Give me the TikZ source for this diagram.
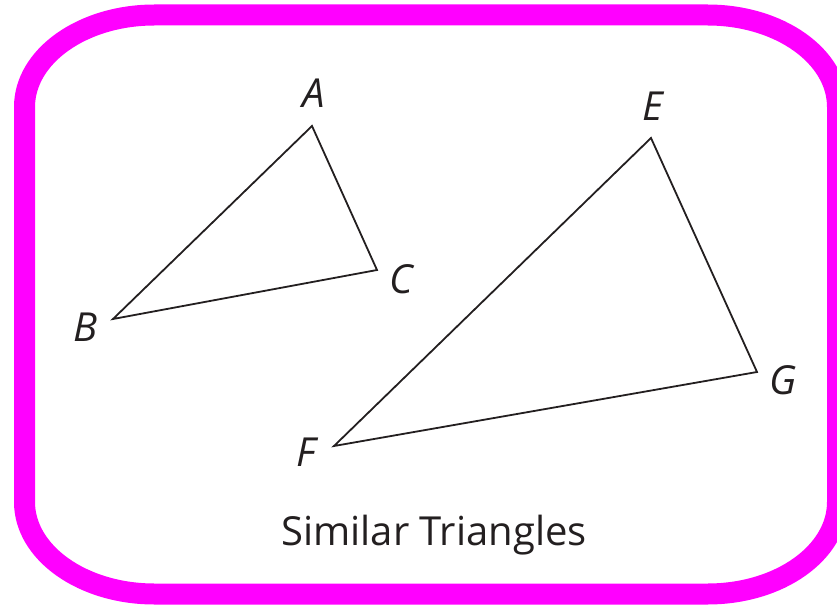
\documentclass[tikz,border=0pt]{standalone}
\usepackage{fontspec}
\setmainfont{Open Sans}
\definecolor{mag}{HTML}{FF00FF}
\definecolor{ink}{HTML}{231F20}
\begin{document}
\begin{tikzpicture}[x=1pt,y=1pt,
  tri/.style={draw=ink,line width=1.8pt,line join=miter},
  lbl/.style={text=ink,font=\fontsize{40}{40}\selectfont\itshape,inner sep=0pt},
  captext/.style={text=ink,font=\fontsize{40}{40}\selectfont,inner sep=0pt}]
\useasboundingbox (0,0) rectangle (837,606);
\def\rx{130}\def\ry{92}
\draw[mag,line width=21pt] (24.5,591-\ry) -- (24.5,12+\ry)
  arc[start angle=180,end angle=270,x radius=\rx,y radius=\ry]
  -- (837.5-\rx,12)
  arc[start angle=270,end angle=360,x radius=\rx,y radius=\ry]
  -- (837.5,591-\ry)
  arc[start angle=0,end angle=90,x radius=\rx,y radius=\ry]
  -- (24.5+\rx,591)
  arc[start angle=90,end angle=180,x radius=\rx,y radius=\ry] -- cycle;
% vertices (y = 606 - image y)
\coordinate (A) at (312,480);
\coordinate (B) at (113,287);
\coordinate (C) at (377,336);
\coordinate (E) at (651,468);
\coordinate (F) at (334,160);
\coordinate (G) at (757,234);
\draw[tri] (A) -- (B) -- (C) -- cycle;
\draw[tri] (E) -- (F) -- (G) -- cycle;
\node[lbl] (lA) at (314,513) {A};
\node[lbl] (lB) at (86,279) {B};
\node[lbl] (lC) at (401,327) {C};
\node[lbl] (lE) at (653,500) {E};
\node[lbl] (lF) at (306,154) {F};
\node[lbl] (lG) at (783,226) {G};
\node[captext,anchor=base] (title) at (434,61) {Similar Triangles};
\end{tikzpicture}
\end{document}
